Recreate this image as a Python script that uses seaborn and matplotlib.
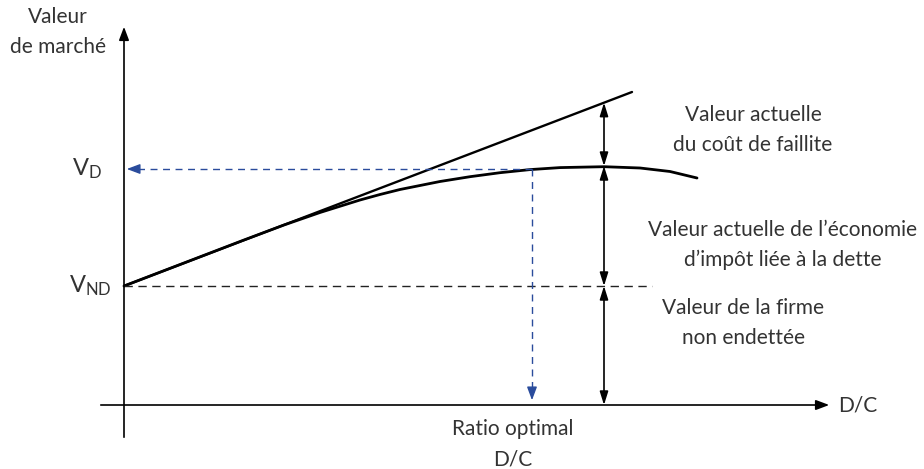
import numpy as np
import matplotlib
matplotlib.use("Agg")
import matplotlib.pyplot as plt
import seaborn as sns

# Diagram values (x = D/C direction, y = market value above V_ND)
curve_x = [0, 60, 120, 160, 196, 236, 256, 276, 316, 346, 376, 406, 436, 480, 516, 546, 573]
curve_y = [0, 23, 46, 61, 73.5, 86, 91.5, 96.5, 104.5, 109.3, 113.3, 116.4, 118.4, 119.3, 118, 114.5, 108]
line_x = [0, 508]
line_y = [0, 194]
v_nd = 119          # unlevered firm value
v_d = 236           # optimal levered value
x_opt = 408         # optimal D/C
x_arrows = 480      # position of the double arrows
x_max = 708
y_max = 381

labels = {
    "ylabel": "Valeur\nde marché",
    "xlabel": "D/C",
    "faillite": "Valeur actuelle\ndu coût de faillite",
    "impot": "Valeur actuelle de l’économie\nd’impôt liée à la dette",
    "firme": "Valeur de la firme\nnon endettée",
    "ratio": "Ratio optimal\nD/C",
}

sns.set_style("white")
plt.rcParams["font.family"] = ["Lato", "DejaVu Sans"]
plt.rcParams["mathtext.fontset"] = "custom"
plt.rcParams["mathtext.rm"] = "Lato"
plt.rcParams["mathtext.it"] = "Lato"

txt = "#333333"
blue = "#2a4c9c"
head = "-|>,head_length=0.8,head_width=0.3"

fig = plt.figure(figsize=(9.24, 4.69), dpi=100)
ax = fig.add_axes([0, 0, 1, 1])
ax.set_xlim(-124, 800)
ax.set_ylim(-64, 405)
ax.axis("off")

# axes with arrows
ax.annotate("", xy=(x_max, 0), xytext=(-26, 0),
            arrowprops=dict(arrowstyle=head, color="black", lw=1.2))
ax.annotate("", xy=(0, y_max), xytext=(0, -35),
            arrowprops=dict(arrowstyle=head, color="black", lw=1.2))

# straight line (value without bankruptcy costs) and curved line (actual value)
sns.lineplot(x=line_x, y=[v_nd + v for v in line_y], ax=ax, color="black", lw=1.7)
sns.lineplot(x=curve_x, y=[v_nd + c for c in curve_y], ax=ax, color="black", lw=2.0,
             sort=False, solid_joinstyle="round")

# dashed reference lines
ax.plot([0, 528], [v_nd, v_nd], color="#222222", lw=1.0, dashes=(6, 4))
ax.plot([x_opt, 10], [v_d, v_d], color=blue, lw=1.0, dashes=(5, 4))
ax.annotate("", xy=(0, v_d), xytext=(14, v_d),
            arrowprops=dict(arrowstyle=head, color=blue, lw=1.0))
ax.plot([x_opt, x_opt], [v_d, 12], color=blue, lw=1.0, dashes=(5, 4))
ax.annotate("", xy=(x_opt, 2), xytext=(x_opt, 14),
            arrowprops=dict(arrowstyle=head, color=blue, lw=1.0))

# double arrows
top = v_nd + line_y[1] * x_arrows / line_x[1]
for y0, y1 in [(0, v_nd), (v_nd, v_d + 3), (v_d + 3, top)]:
    ax.annotate("", xy=(x_arrows, y1), xytext=(x_arrows, y0),
                arrowprops=dict(arrowstyle="<|-|>,head_length=0.8,head_width=0.25",
                                color="black", lw=1.2, shrinkA=0, shrinkB=0))

fs = 15
ls = 1.65
ax.text(-66, 373, labels["ylabel"], ha="center", va="center", fontsize=fs, color=txt, linespacing=ls)
ax.text(714, 0, labels["xlabel"], ha="left", va="center", fontsize=fs, color=txt)
ax.text(-52, v_d, r"$\mathrm{V_{D}}$", ha="left", va="center", fontsize=17, color=txt)
ax.text(-55, v_nd, r"$\mathrm{V_{ND}}$", ha="left", va="center", fontsize=17, color=txt)
ax.text(629, 275, labels["faillite"], ha="center", va="center", fontsize=fs, color=txt, linespacing=ls)
ax.text(659, 160, labels["impot"], ha="center", va="center", fontsize=fs, color=txt, linespacing=ls)
ax.text(619, 82, labels["firme"], ha="center", va="center", fontsize=fs, color=txt, linespacing=ls)
ax.text(389, -39, labels["ratio"], ha="center", va="center", fontsize=fs, color=txt, linespacing=ls)

fig.savefig("out.png", dpi=100)
